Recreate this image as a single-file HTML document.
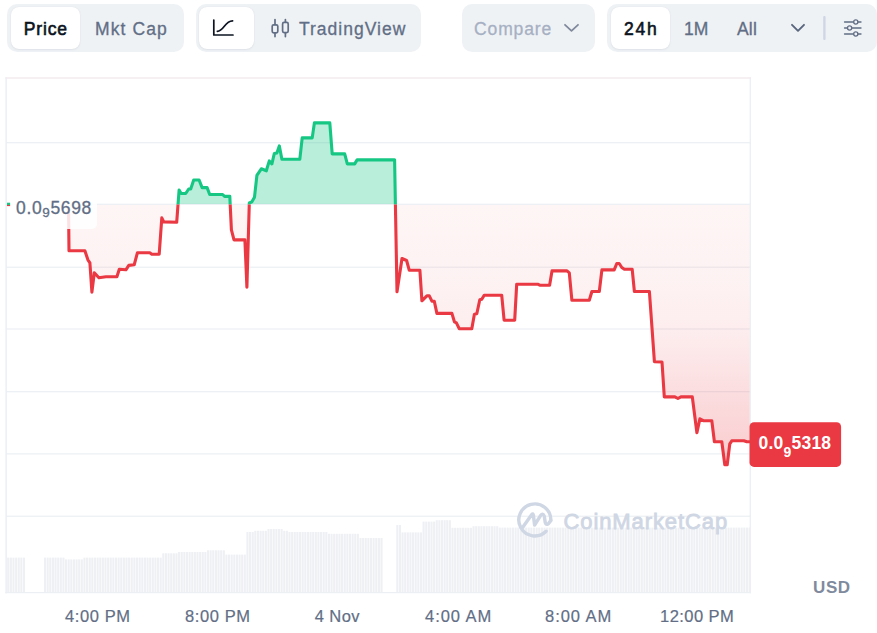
<!DOCTYPE html>
<html><head><meta charset="utf-8"><title>Chart</title>
<style>
html,body{margin:0;padding:0;background:#fff;}
body{width:877px;height:633px;position:relative;overflow:hidden;font-family:"Liberation Sans",sans-serif;}
.grp{position:absolute;top:4px;height:48px;background:#eff2f5;border-radius:10px;}
.btn{position:absolute;top:3px;height:42px;background:#fff;border-radius:8px;box-shadow:0 1px 2px rgba(128,138,157,.12),0 0 1px rgba(128,138,157,.2);}
.t{position:absolute;white-space:nowrap;line-height:20px;font-size:17.5px;color:#616e85;-webkit-text-stroke:.3px currentColor;}
.b{font-weight:bold;color:#0d1421;}
svg{position:absolute;left:0;top:0;}
.ax{position:absolute;top:605.6px;font-size:16.5px;line-height:20px;color:#616e85;white-space:nowrap;letter-spacing:.6px;-webkit-text-stroke:.2px currentColor}
</style></head><body>
<!-- toolbar -->
<div class="grp" style="left:7px;width:177px"><div class="btn" style="left:4px;width:69px"></div></div>
<div class="t" style="left:23.8px;top:19.3px;letter-spacing:.85px;color:#0d1421;-webkit-text-stroke:.6px #0d1421">Price</div>
<div class="t" style="left:95px;top:19.3px;letter-spacing:1.1px">Mkt Cap</div>
<div class="grp" style="left:196px;width:225px"><div class="btn" style="left:3px;width:55px"></div></div>
<div class="t" style="left:299px;top:19.3px;letter-spacing:1px">TradingView</div>
<div class="grp" style="left:462px;width:133px"></div>
<div class="t" style="left:474px;top:19.3px;color:#a6b0c3;letter-spacing:.88px">Compare</div>
<div class="grp" style="left:607px;width:270px"><div class="btn" style="left:4px;width:59px"></div></div>
<div class="t" style="left:624px;top:19.3px;letter-spacing:1.75px;color:#0d1421;-webkit-text-stroke:.6px #0d1421">24h</div>
<div class="t" style="left:684px;top:19.3px;letter-spacing:0px">1M</div>
<div class="t" style="left:737px;top:19.3px;letter-spacing:.2px">All</div>

<svg width="877" height="633" viewBox="0 0 877 633">
<defs>
<linearGradient id="rg" x1="0" y1="204.5" x2="0" y2="466" gradientUnits="userSpaceOnUse">
<stop offset="0" stop-color="#ea3943" stop-opacity="0.05"/><stop offset="0.3" stop-color="#ea3943" stop-opacity="0.065"/><stop offset="0.5" stop-color="#ea3943" stop-opacity="0.095"/><stop offset="0.78" stop-color="#ea3943" stop-opacity="0.19"/><stop offset="1" stop-color="#ea3943" stop-opacity="0.26"/>
</linearGradient>
<clipPath id="up"><rect x="0" y="70" width="877" height="134.5"/></clipPath>
<clipPath id="dn"><rect x="0" y="204.5" width="877" height="400"/></clipPath>
<clipPath id="upa"><rect x="0" y="70" width="877" height="134"/></clipPath>
<clipPath id="dna"><rect x="0" y="205" width="877" height="400"/></clipPath>
</defs>
<!-- toolbar icons -->
<g fill="none" stroke="#0d1421" stroke-width="1.7" stroke-linecap="round" stroke-linejoin="round">
<path d="M213.8,20 V35 H233"/><path d="M217.3,31.3 C224,31 224.5,21 232.6,20.8"/>
</g>
<g fill="none" stroke="#616e85" stroke-width="1.7" stroke-linecap="round" stroke-linejoin="round">
<rect x="272.2" y="24.8" width="5.6" height="8" rx="1.5"/><path d="M275,19.6 V24.5 M275,33 V36.6"/>
<rect x="282.6" y="22.4" width="5.6" height="10.2" rx="1.5"/><path d="M285.4,19.6 V22 M285.4,33 V36.6"/>
</g>
<path d="M565,24.8 L571.5,30.8 L578,24.8" fill="none" stroke="#808a9d" stroke-width="1.8" stroke-linecap="round" stroke-linejoin="round"/>
<path d="M792,24.8 L798,30.8 L804,24.8" fill="none" stroke="#58667e" stroke-width="1.9" stroke-linecap="round" stroke-linejoin="round"/>
<rect x="823.2" y="16" width="2.4" height="24" rx="1" fill="#cfd6e4"/>
<g fill="none" stroke="#616e85" stroke-width="1.3" stroke-linecap="round">
<path d="M844.5,22 H853.5 M858,22 H861 M844.5,28 H847.4 M851.8,28 H861 M844.5,34 H853.5 M858,34 H861"/>
<circle cx="855.8" cy="22" r="2.1"/><circle cx="849.6" cy="28" r="2.1"/><circle cx="855.8" cy="34" r="2.1"/>
</g>
<!-- chart frame -->
<g fill="#eceff3">
<rect x="5.4" y="77.3" width="1.5" height="516"/><rect x="749.6" y="77.3" width="1.4" height="516"/>
<rect x="5.4" y="77.3" width="745.6" height="1.4" fill="#f2eaed"/>
<rect x="6" width="744.5" y="142.10" height="1.2"/><rect x="6" width="744.5" y="203.70" height="1.2"/><rect x="6" width="744.5" y="266.60" height="1.2"/><rect x="6" width="744.5" y="328.40" height="1.2"/><rect x="6" width="744.5" y="391.10" height="1.2"/><rect x="6" width="744.5" y="453.30" height="1.2"/><rect x="6" width="744.5" y="515.60" height="1.2"/>
<rect x="5.4" y="592" width="745.6" height="1.2"/>
</g>
<!-- volume -->
<g fill="#eef0f4"><rect x="6.00" y="557.6" width="0.62" height="34.7"/><rect x="7.18" y="557.6" width="2.07" height="34.7"/><rect x="9.81" y="557.6" width="2.07" height="34.7"/><rect x="12.44" y="557.6" width="2.07" height="34.7"/><rect x="15.07" y="557.6" width="2.07" height="34.7"/><rect x="17.70" y="557.6" width="2.07" height="34.7"/><rect x="20.32" y="557.6" width="2.07" height="34.7"/><rect x="22.95" y="557.6" width="2.07" height="34.7"/><rect x="43.98" y="557.6" width="2.07" height="34.7"/><rect x="46.61" y="557.6" width="2.07" height="34.7"/><rect x="49.24" y="557.6" width="2.07" height="34.7"/><rect x="51.87" y="557.6" width="2.07" height="34.7"/><rect x="54.50" y="557.6" width="2.07" height="34.7"/><rect x="57.13" y="557.6" width="2.07" height="34.7"/><rect x="59.76" y="557.6" width="2.07" height="34.7"/><rect x="62.39" y="557.6" width="2.07" height="34.7"/><rect x="65.02" y="559.4" width="2.07" height="32.9"/><rect x="67.65" y="559.4" width="2.07" height="32.9"/><rect x="70.27" y="559.4" width="2.07" height="32.9"/><rect x="72.90" y="559.4" width="2.07" height="32.9"/><rect x="75.53" y="559.4" width="2.07" height="32.9"/><rect x="78.16" y="559.4" width="2.07" height="32.9"/><rect x="80.79" y="559.4" width="2.07" height="32.9"/><rect x="83.42" y="557.6" width="2.07" height="34.7"/><rect x="86.05" y="557.6" width="2.07" height="34.7"/><rect x="88.68" y="557.6" width="2.07" height="34.7"/><rect x="91.31" y="557.6" width="2.07" height="34.7"/><rect x="93.94" y="557.6" width="2.07" height="34.7"/><rect x="96.57" y="557.6" width="2.07" height="34.7"/><rect x="99.19" y="557.6" width="2.07" height="34.7"/><rect x="101.82" y="557.6" width="2.07" height="34.7"/><rect x="104.45" y="557.6" width="2.07" height="34.7"/><rect x="107.08" y="557.6" width="2.07" height="34.7"/><rect x="109.71" y="557.6" width="2.07" height="34.7"/><rect x="112.34" y="557.6" width="2.07" height="34.7"/><rect x="114.97" y="557.6" width="2.07" height="34.7"/><rect x="117.60" y="557.6" width="2.07" height="34.7"/><rect x="120.23" y="557.6" width="2.07" height="34.7"/><rect x="122.86" y="557.6" width="2.07" height="34.7"/><rect x="125.48" y="557.6" width="2.07" height="34.7"/><rect x="128.11" y="557.6" width="2.07" height="34.7"/><rect x="130.74" y="557.6" width="2.07" height="34.7"/><rect x="133.37" y="557.6" width="2.07" height="34.7"/><rect x="136.00" y="557.6" width="2.07" height="34.7"/><rect x="138.63" y="557.6" width="2.07" height="34.7"/><rect x="141.26" y="557.6" width="2.07" height="34.7"/><rect x="143.89" y="557.6" width="2.07" height="34.7"/><rect x="146.52" y="557.6" width="2.07" height="34.7"/><rect x="149.15" y="557.6" width="2.07" height="34.7"/><rect x="151.77" y="557.6" width="2.07" height="34.7"/><rect x="154.40" y="557.6" width="2.07" height="34.7"/><rect x="157.03" y="557.6" width="2.07" height="34.7"/><rect x="159.66" y="557.6" width="2.07" height="34.7"/><rect x="162.29" y="553.3" width="2.07" height="39.0"/><rect x="164.92" y="553.3" width="2.07" height="39.0"/><rect x="167.55" y="553.3" width="2.07" height="39.0"/><rect x="170.18" y="553.3" width="2.07" height="39.0"/><rect x="172.81" y="553.3" width="2.07" height="39.0"/><rect x="175.43" y="553.3" width="2.07" height="39.0"/><rect x="178.06" y="552.0" width="2.07" height="40.3"/><rect x="180.69" y="552.0" width="2.07" height="40.3"/><rect x="183.32" y="552.0" width="2.07" height="40.3"/><rect x="185.95" y="552.0" width="2.07" height="40.3"/><rect x="188.58" y="552.0" width="2.07" height="40.3"/><rect x="191.21" y="552.0" width="2.07" height="40.3"/><rect x="193.84" y="552.0" width="2.07" height="40.3"/><rect x="196.47" y="552.0" width="2.07" height="40.3"/><rect x="199.10" y="552.0" width="2.07" height="40.3"/><rect x="201.72" y="552.0" width="2.07" height="40.3"/><rect x="204.35" y="552.0" width="2.07" height="40.3"/><rect x="206.98" y="550.3" width="2.07" height="42.0"/><rect x="209.61" y="550.3" width="2.07" height="42.0"/><rect x="212.24" y="550.3" width="2.07" height="42.0"/><rect x="214.87" y="550.3" width="2.07" height="42.0"/><rect x="217.50" y="550.3" width="2.07" height="42.0"/><rect x="220.13" y="550.3" width="2.07" height="42.0"/><rect x="222.76" y="550.3" width="2.07" height="42.0"/><rect x="225.39" y="554.6" width="2.07" height="37.7"/><rect x="228.01" y="554.6" width="2.07" height="37.7"/><rect x="230.64" y="554.6" width="2.07" height="37.7"/><rect x="233.27" y="554.6" width="2.07" height="37.7"/><rect x="235.90" y="554.6" width="2.07" height="37.7"/><rect x="238.53" y="554.6" width="2.07" height="37.7"/><rect x="241.16" y="554.6" width="2.07" height="37.7"/><rect x="243.79" y="554.6" width="2.07" height="37.7"/><rect x="246.42" y="532.0" width="2.07" height="60.3"/><rect x="249.05" y="532.0" width="2.07" height="60.3"/><rect x="251.68" y="532.0" width="2.07" height="60.3"/><rect x="254.30" y="530.8" width="2.07" height="61.5"/><rect x="256.93" y="530.8" width="2.07" height="61.5"/><rect x="259.56" y="530.8" width="2.07" height="61.5"/><rect x="262.19" y="530.8" width="2.07" height="61.5"/><rect x="264.82" y="530.8" width="2.07" height="61.5"/><rect x="267.45" y="529.0" width="2.07" height="63.3"/><rect x="270.08" y="529.0" width="2.07" height="63.3"/><rect x="272.71" y="529.0" width="2.07" height="63.3"/><rect x="275.34" y="529.0" width="2.07" height="63.3"/><rect x="277.97" y="529.0" width="2.07" height="63.3"/><rect x="280.59" y="529.0" width="2.07" height="63.3"/><rect x="283.22" y="530.8" width="2.07" height="61.5"/><rect x="285.85" y="530.8" width="2.07" height="61.5"/><rect x="288.48" y="532.0" width="2.07" height="60.3"/><rect x="291.11" y="532.0" width="2.07" height="60.3"/><rect x="293.74" y="532.0" width="2.07" height="60.3"/><rect x="296.37" y="532.0" width="2.07" height="60.3"/><rect x="299.00" y="532.0" width="2.07" height="60.3"/><rect x="301.63" y="532.0" width="2.07" height="60.3"/><rect x="304.26" y="532.0" width="2.07" height="60.3"/><rect x="306.88" y="532.0" width="2.07" height="60.3"/><rect x="309.51" y="532.0" width="2.07" height="60.3"/><rect x="312.14" y="532.0" width="2.07" height="60.3"/><rect x="314.77" y="532.0" width="2.07" height="60.3"/><rect x="317.40" y="532.0" width="2.07" height="60.3"/><rect x="320.03" y="532.0" width="2.07" height="60.3"/><rect x="322.66" y="532.0" width="2.07" height="60.3"/><rect x="325.29" y="532.0" width="2.07" height="60.3"/><rect x="327.92" y="533.8" width="2.07" height="58.5"/><rect x="330.55" y="533.8" width="2.07" height="58.5"/><rect x="333.18" y="533.8" width="2.07" height="58.5"/><rect x="335.80" y="533.8" width="2.07" height="58.5"/><rect x="338.43" y="533.8" width="2.07" height="58.5"/><rect x="341.06" y="533.8" width="2.07" height="58.5"/><rect x="343.69" y="533.8" width="2.07" height="58.5"/><rect x="346.32" y="533.8" width="2.07" height="58.5"/><rect x="348.95" y="533.8" width="2.07" height="58.5"/><rect x="351.58" y="533.8" width="2.07" height="58.5"/><rect x="354.21" y="533.8" width="2.07" height="58.5"/><rect x="356.84" y="533.8" width="2.07" height="58.5"/><rect x="359.47" y="538.0" width="2.07" height="54.3"/><rect x="362.09" y="538.0" width="2.07" height="54.3"/><rect x="364.72" y="538.0" width="2.07" height="54.3"/><rect x="367.35" y="538.0" width="2.07" height="54.3"/><rect x="369.98" y="538.0" width="2.07" height="54.3"/><rect x="372.61" y="538.0" width="2.07" height="54.3"/><rect x="375.24" y="538.0" width="2.07" height="54.3"/><rect x="377.87" y="538.0" width="2.07" height="54.3"/><rect x="380.50" y="538.0" width="2.07" height="54.3"/><rect x="396.27" y="525.0" width="2.07" height="67.3"/><rect x="398.90" y="525.0" width="2.07" height="67.3"/><rect x="401.53" y="532.4" width="2.07" height="59.9"/><rect x="404.16" y="532.4" width="2.07" height="59.9"/><rect x="406.79" y="532.4" width="2.07" height="59.9"/><rect x="409.42" y="532.4" width="2.07" height="59.9"/><rect x="412.05" y="532.4" width="2.07" height="59.9"/><rect x="414.67" y="532.4" width="2.07" height="59.9"/><rect x="417.30" y="532.4" width="2.07" height="59.9"/><rect x="419.93" y="532.4" width="2.07" height="59.9"/><rect x="422.56" y="521.6" width="2.07" height="70.7"/><rect x="425.19" y="521.6" width="2.07" height="70.7"/><rect x="427.82" y="521.6" width="2.07" height="70.7"/><rect x="430.45" y="521.6" width="2.07" height="70.7"/><rect x="433.08" y="521.6" width="2.07" height="70.7"/><rect x="435.71" y="520.2" width="2.07" height="72.1"/><rect x="438.34" y="520.2" width="2.07" height="72.1"/><rect x="440.96" y="520.2" width="2.07" height="72.1"/><rect x="443.59" y="520.2" width="2.07" height="72.1"/><rect x="446.22" y="520.2" width="2.07" height="72.1"/><rect x="448.85" y="520.2" width="2.07" height="72.1"/><rect x="451.48" y="527.8" width="2.07" height="64.5"/><rect x="454.11" y="527.8" width="2.07" height="64.5"/><rect x="456.74" y="527.8" width="2.07" height="64.5"/><rect x="459.37" y="527.8" width="2.07" height="64.5"/><rect x="462.00" y="527.8" width="2.07" height="64.5"/><rect x="464.63" y="527.8" width="2.07" height="64.5"/><rect x="467.25" y="527.8" width="2.07" height="64.5"/><rect x="469.88" y="527.8" width="2.07" height="64.5"/><rect x="472.51" y="526.2" width="2.07" height="66.1"/><rect x="475.14" y="526.2" width="2.07" height="66.1"/><rect x="477.77" y="526.2" width="2.07" height="66.1"/><rect x="480.40" y="526.2" width="2.07" height="66.1"/><rect x="483.03" y="526.2" width="2.07" height="66.1"/><rect x="485.66" y="526.2" width="2.07" height="66.1"/><rect x="488.29" y="526.2" width="2.07" height="66.1"/><rect x="490.92" y="526.2" width="2.07" height="66.1"/><rect x="493.54" y="526.2" width="2.07" height="66.1"/><rect x="496.17" y="526.2" width="2.07" height="66.1"/><rect x="498.80" y="527.6" width="2.07" height="64.7"/><rect x="501.43" y="527.6" width="2.07" height="64.7"/><rect x="504.06" y="527.6" width="2.07" height="64.7"/><rect x="506.69" y="527.6" width="2.07" height="64.7"/><rect x="509.32" y="527.6" width="2.07" height="64.7"/><rect x="511.95" y="527.6" width="2.07" height="64.7"/><rect x="514.58" y="527.6" width="2.07" height="64.7"/><rect x="517.21" y="527.6" width="2.07" height="64.7"/><rect x="519.83" y="527.6" width="2.07" height="64.7"/><rect x="522.46" y="527.6" width="2.07" height="64.7"/><rect x="525.09" y="527.6" width="2.07" height="64.7"/><rect x="527.72" y="527.6" width="2.07" height="64.7"/><rect x="530.35" y="527.6" width="2.07" height="64.7"/><rect x="532.98" y="527.6" width="2.07" height="64.7"/><rect x="535.61" y="527.6" width="2.07" height="64.7"/><rect x="538.24" y="527.6" width="2.07" height="64.7"/><rect x="540.87" y="527.6" width="2.07" height="64.7"/><rect x="543.50" y="527.6" width="2.07" height="64.7"/><rect x="546.12" y="527.6" width="2.07" height="64.7"/><rect x="548.75" y="527.6" width="2.07" height="64.7"/><rect x="551.38" y="527.6" width="2.07" height="64.7"/><rect x="554.01" y="527.6" width="2.07" height="64.7"/><rect x="556.64" y="527.6" width="2.07" height="64.7"/><rect x="559.27" y="527.6" width="2.07" height="64.7"/><rect x="561.90" y="527.6" width="2.07" height="64.7"/><rect x="564.53" y="527.6" width="2.07" height="64.7"/><rect x="567.16" y="527.6" width="2.07" height="64.7"/><rect x="569.79" y="527.6" width="2.07" height="64.7"/><rect x="572.41" y="527.6" width="2.07" height="64.7"/><rect x="575.04" y="527.6" width="2.07" height="64.7"/><rect x="577.67" y="527.6" width="2.07" height="64.7"/><rect x="580.30" y="527.6" width="2.07" height="64.7"/><rect x="582.93" y="527.6" width="2.07" height="64.7"/><rect x="585.56" y="527.6" width="2.07" height="64.7"/><rect x="588.19" y="527.6" width="2.07" height="64.7"/><rect x="590.82" y="527.6" width="2.07" height="64.7"/><rect x="593.45" y="527.6" width="2.07" height="64.7"/><rect x="596.08" y="527.6" width="2.07" height="64.7"/><rect x="598.70" y="527.6" width="2.07" height="64.7"/><rect x="601.33" y="527.6" width="2.07" height="64.7"/><rect x="603.96" y="527.6" width="2.07" height="64.7"/><rect x="606.59" y="527.6" width="2.07" height="64.7"/><rect x="609.22" y="527.6" width="2.07" height="64.7"/><rect x="611.85" y="527.6" width="2.07" height="64.7"/><rect x="614.48" y="527.6" width="2.07" height="64.7"/><rect x="617.11" y="527.6" width="2.07" height="64.7"/><rect x="619.74" y="527.6" width="2.07" height="64.7"/><rect x="622.37" y="527.6" width="2.07" height="64.7"/><rect x="624.99" y="527.6" width="2.07" height="64.7"/><rect x="627.62" y="527.6" width="2.07" height="64.7"/><rect x="630.25" y="527.6" width="2.07" height="64.7"/><rect x="632.88" y="527.6" width="2.07" height="64.7"/><rect x="635.51" y="527.6" width="2.07" height="64.7"/><rect x="638.14" y="527.6" width="2.07" height="64.7"/><rect x="640.77" y="527.6" width="2.07" height="64.7"/><rect x="643.40" y="527.6" width="2.07" height="64.7"/><rect x="646.03" y="527.6" width="2.07" height="64.7"/><rect x="648.66" y="527.6" width="2.07" height="64.7"/><rect x="651.28" y="527.6" width="2.07" height="64.7"/><rect x="653.91" y="527.6" width="2.07" height="64.7"/><rect x="656.54" y="527.6" width="2.07" height="64.7"/><rect x="659.17" y="527.6" width="2.07" height="64.7"/><rect x="661.80" y="527.6" width="2.07" height="64.7"/><rect x="664.43" y="527.6" width="2.07" height="64.7"/><rect x="667.06" y="527.6" width="2.07" height="64.7"/><rect x="669.69" y="527.6" width="2.07" height="64.7"/><rect x="672.32" y="527.6" width="2.07" height="64.7"/><rect x="674.95" y="527.6" width="2.07" height="64.7"/><rect x="677.57" y="527.6" width="2.07" height="64.7"/><rect x="680.20" y="527.6" width="2.07" height="64.7"/><rect x="682.83" y="527.6" width="2.07" height="64.7"/><rect x="685.46" y="527.6" width="2.07" height="64.7"/><rect x="688.09" y="527.6" width="2.07" height="64.7"/><rect x="690.72" y="527.6" width="2.07" height="64.7"/><rect x="693.35" y="527.6" width="2.07" height="64.7"/><rect x="695.98" y="527.6" width="2.07" height="64.7"/><rect x="698.61" y="527.6" width="2.07" height="64.7"/><rect x="701.24" y="527.6" width="2.07" height="64.7"/><rect x="703.86" y="527.6" width="2.07" height="64.7"/><rect x="706.49" y="527.6" width="2.07" height="64.7"/><rect x="709.12" y="527.6" width="2.07" height="64.7"/><rect x="711.75" y="527.6" width="2.07" height="64.7"/><rect x="714.38" y="527.6" width="2.07" height="64.7"/><rect x="717.01" y="527.6" width="2.07" height="64.7"/><rect x="719.64" y="527.6" width="2.07" height="64.7"/><rect x="722.27" y="527.6" width="2.07" height="64.7"/><rect x="724.90" y="527.6" width="2.07" height="64.7"/><rect x="727.53" y="527.6" width="2.07" height="64.7"/><rect x="730.15" y="527.6" width="2.07" height="64.7"/><rect x="732.78" y="527.6" width="2.07" height="64.7"/><rect x="735.41" y="527.6" width="2.07" height="64.7"/><rect x="738.04" y="527.6" width="2.07" height="64.7"/><rect x="740.67" y="527.6" width="2.07" height="64.7"/><rect x="743.30" y="527.6" width="2.07" height="64.7"/><rect x="745.93" y="527.6" width="2.07" height="64.7"/><rect x="748.56" y="527.6" width="2.07" height="64.7"/></g>
<!-- areas -->
<path d="M68.6,213.0 L69.0,250.8 L84.9,250.8 L87.9,259.8 L89.9,262.8 L91.9,292.1 L94.3,272.8 L98.9,277.8 L105.9,276.8 L116.9,276.8 L119.3,269.2 L125.9,269.8 L128.8,265.4 L134.2,264.8 L137.4,252.8 L149.8,252.8 L151.8,254.2 L159.2,254.2 L161.8,217.9 L163.8,221.9 L176.7,222.3 L179.1,190.0 L181.1,193.5 L185.7,193.5 L188.7,189.0 L190.7,189.0 L193.7,180.0 L199.1,180.0 L202.1,187.6 L207.1,187.6 L209.7,194.5 L222.6,194.5 L224.6,196.4 L229.8,196.4 L231.4,229.9 L234.0,239.9 L244.9,239.9 L246.9,287.2 L249.3,203.0 L251.9,201.8 L254.5,197.2 L256.9,175.4 L261.3,168.8 L266.3,170.8 L269.3,160.9 L271.9,163.9 L274.3,153.5 L276.9,152.9 L279.3,145.9 L281.9,159.3 L299.8,159.3 L302.2,137.9 L312.2,137.9 L314.4,122.9 L329.8,122.9 L332.2,153.9 L344.7,153.9 L347.3,163.9 L354.7,163.9 L357.1,159.9 L394.6,159.9 L395.6,215.0 L397.0,291.8 L402.0,258.5 L406.6,260.5 L409.3,270.3 L419.9,270.3 L421.9,300.8 L426.9,295.8 L429.3,295.8 L431.9,301.2 L434.3,301.2 L436.9,313.4 L451.9,313.4 L454.4,321.8 L456.4,322.8 L459.2,328.7 L471.8,328.7 L474.4,314.2 L476.8,313.8 L479.8,299.8 L481.8,299.2 L484.2,295.2 L501.7,295.2 L504.1,320.2 L514.7,320.2 L516.7,284.2 L537.7,284.2 L539.7,285.2 L549.6,285.2 L552.0,270.9 L567.0,270.9 L569.3,272.9 L571.9,300.3 L589.3,300.3 L591.9,291.5 L599.3,291.5 L601.9,269.9 L614.2,269.9 L616.8,263.5 L619.2,263.5 L621.8,267.5 L624.4,269.3 L632.2,269.3 L634.4,291.5 L649.4,291.5 L654.4,361.7 L662.0,362.0 L664.3,396.9 L674.9,396.9 L677.9,398.5 L680.9,396.9 L692.3,396.9 L696.9,432.8 L699.9,418.8 L703.9,420.8 L711.8,420.8 L714.4,441.8 L721.8,441.8 L724.8,464.7 L727.2,464.7 L729.8,443.8 L731.8,440.8 L743.8,440.8 L746.8,441.8 L749.6,441.8 L749.6,204.5 L68.6,204.5 Z" fill="#16c784" fill-opacity="0.3" clip-path="url(#upa)"/>
<path d="M68.6,213.0 L69.0,250.8 L84.9,250.8 L87.9,259.8 L89.9,262.8 L91.9,292.1 L94.3,272.8 L98.9,277.8 L105.9,276.8 L116.9,276.8 L119.3,269.2 L125.9,269.8 L128.8,265.4 L134.2,264.8 L137.4,252.8 L149.8,252.8 L151.8,254.2 L159.2,254.2 L161.8,217.9 L163.8,221.9 L176.7,222.3 L179.1,190.0 L181.1,193.5 L185.7,193.5 L188.7,189.0 L190.7,189.0 L193.7,180.0 L199.1,180.0 L202.1,187.6 L207.1,187.6 L209.7,194.5 L222.6,194.5 L224.6,196.4 L229.8,196.4 L231.4,229.9 L234.0,239.9 L244.9,239.9 L246.9,287.2 L249.3,203.0 L251.9,201.8 L254.5,197.2 L256.9,175.4 L261.3,168.8 L266.3,170.8 L269.3,160.9 L271.9,163.9 L274.3,153.5 L276.9,152.9 L279.3,145.9 L281.9,159.3 L299.8,159.3 L302.2,137.9 L312.2,137.9 L314.4,122.9 L329.8,122.9 L332.2,153.9 L344.7,153.9 L347.3,163.9 L354.7,163.9 L357.1,159.9 L394.6,159.9 L395.6,215.0 L397.0,291.8 L402.0,258.5 L406.6,260.5 L409.3,270.3 L419.9,270.3 L421.9,300.8 L426.9,295.8 L429.3,295.8 L431.9,301.2 L434.3,301.2 L436.9,313.4 L451.9,313.4 L454.4,321.8 L456.4,322.8 L459.2,328.7 L471.8,328.7 L474.4,314.2 L476.8,313.8 L479.8,299.8 L481.8,299.2 L484.2,295.2 L501.7,295.2 L504.1,320.2 L514.7,320.2 L516.7,284.2 L537.7,284.2 L539.7,285.2 L549.6,285.2 L552.0,270.9 L567.0,270.9 L569.3,272.9 L571.9,300.3 L589.3,300.3 L591.9,291.5 L599.3,291.5 L601.9,269.9 L614.2,269.9 L616.8,263.5 L619.2,263.5 L621.8,267.5 L624.4,269.3 L632.2,269.3 L634.4,291.5 L649.4,291.5 L654.4,361.7 L662.0,362.0 L664.3,396.9 L674.9,396.9 L677.9,398.5 L680.9,396.9 L692.3,396.9 L696.9,432.8 L699.9,418.8 L703.9,420.8 L711.8,420.8 L714.4,441.8 L721.8,441.8 L724.8,464.7 L727.2,464.7 L729.8,443.8 L731.8,440.8 L743.8,440.8 L746.8,441.8 L749.6,441.8 L749.6,204.5 L68.6,204.5 Z" fill="url(#rg)" clip-path="url(#dna)"/>
<path d="M68.6,213.0 L69.0,250.8 L84.9,250.8 L87.9,259.8 L89.9,262.8 L91.9,292.1 L94.3,272.8 L98.9,277.8 L105.9,276.8 L116.9,276.8 L119.3,269.2 L125.9,269.8 L128.8,265.4 L134.2,264.8 L137.4,252.8 L149.8,252.8 L151.8,254.2 L159.2,254.2 L161.8,217.9 L163.8,221.9 L176.7,222.3 L179.1,190.0 L181.1,193.5 L185.7,193.5 L188.7,189.0 L190.7,189.0 L193.7,180.0 L199.1,180.0 L202.1,187.6 L207.1,187.6 L209.7,194.5 L222.6,194.5 L224.6,196.4 L229.8,196.4 L231.4,229.9 L234.0,239.9 L244.9,239.9 L246.9,287.2 L249.3,203.0 L251.9,201.8 L254.5,197.2 L256.9,175.4 L261.3,168.8 L266.3,170.8 L269.3,160.9 L271.9,163.9 L274.3,153.5 L276.9,152.9 L279.3,145.9 L281.9,159.3 L299.8,159.3 L302.2,137.9 L312.2,137.9 L314.4,122.9 L329.8,122.9 L332.2,153.9 L344.7,153.9 L347.3,163.9 L354.7,163.9 L357.1,159.9 L394.6,159.9 L395.6,215.0 L397.0,291.8 L402.0,258.5 L406.6,260.5 L409.3,270.3 L419.9,270.3 L421.9,300.8 L426.9,295.8 L429.3,295.8 L431.9,301.2 L434.3,301.2 L436.9,313.4 L451.9,313.4 L454.4,321.8 L456.4,322.8 L459.2,328.7 L471.8,328.7 L474.4,314.2 L476.8,313.8 L479.8,299.8 L481.8,299.2 L484.2,295.2 L501.7,295.2 L504.1,320.2 L514.7,320.2 L516.7,284.2 L537.7,284.2 L539.7,285.2 L549.6,285.2 L552.0,270.9 L567.0,270.9 L569.3,272.9 L571.9,300.3 L589.3,300.3 L591.9,291.5 L599.3,291.5 L601.9,269.9 L614.2,269.9 L616.8,263.5 L619.2,263.5 L621.8,267.5 L624.4,269.3 L632.2,269.3 L634.4,291.5 L649.4,291.5 L654.4,361.7 L662.0,362.0 L664.3,396.9 L674.9,396.9 L677.9,398.5 L680.9,396.9 L692.3,396.9 L696.9,432.8 L699.9,418.8 L703.9,420.8 L711.8,420.8 L714.4,441.8 L721.8,441.8 L724.8,464.7 L727.2,464.7 L729.8,443.8 L731.8,440.8 L743.8,440.8 L746.8,441.8 L749.6,441.8" fill="none" stroke="#16c784" stroke-width="3.1" stroke-linejoin="round" stroke-linecap="round" clip-path="url(#up)"/>
<path d="M68.6,213.0 L69.0,250.8 L84.9,250.8 L87.9,259.8 L89.9,262.8 L91.9,292.1 L94.3,272.8 L98.9,277.8 L105.9,276.8 L116.9,276.8 L119.3,269.2 L125.9,269.8 L128.8,265.4 L134.2,264.8 L137.4,252.8 L149.8,252.8 L151.8,254.2 L159.2,254.2 L161.8,217.9 L163.8,221.9 L176.7,222.3 L179.1,190.0 L181.1,193.5 L185.7,193.5 L188.7,189.0 L190.7,189.0 L193.7,180.0 L199.1,180.0 L202.1,187.6 L207.1,187.6 L209.7,194.5 L222.6,194.5 L224.6,196.4 L229.8,196.4 L231.4,229.9 L234.0,239.9 L244.9,239.9 L246.9,287.2 L249.3,203.0 L251.9,201.8 L254.5,197.2 L256.9,175.4 L261.3,168.8 L266.3,170.8 L269.3,160.9 L271.9,163.9 L274.3,153.5 L276.9,152.9 L279.3,145.9 L281.9,159.3 L299.8,159.3 L302.2,137.9 L312.2,137.9 L314.4,122.9 L329.8,122.9 L332.2,153.9 L344.7,153.9 L347.3,163.9 L354.7,163.9 L357.1,159.9 L394.6,159.9 L395.6,215.0 L397.0,291.8 L402.0,258.5 L406.6,260.5 L409.3,270.3 L419.9,270.3 L421.9,300.8 L426.9,295.8 L429.3,295.8 L431.9,301.2 L434.3,301.2 L436.9,313.4 L451.9,313.4 L454.4,321.8 L456.4,322.8 L459.2,328.7 L471.8,328.7 L474.4,314.2 L476.8,313.8 L479.8,299.8 L481.8,299.2 L484.2,295.2 L501.7,295.2 L504.1,320.2 L514.7,320.2 L516.7,284.2 L537.7,284.2 L539.7,285.2 L549.6,285.2 L552.0,270.9 L567.0,270.9 L569.3,272.9 L571.9,300.3 L589.3,300.3 L591.9,291.5 L599.3,291.5 L601.9,269.9 L614.2,269.9 L616.8,263.5 L619.2,263.5 L621.8,267.5 L624.4,269.3 L632.2,269.3 L634.4,291.5 L649.4,291.5 L654.4,361.7 L662.0,362.0 L664.3,396.9 L674.9,396.9 L677.9,398.5 L680.9,396.9 L692.3,396.9 L696.9,432.8 L699.9,418.8 L703.9,420.8 L711.8,420.8 L714.4,441.8 L721.8,441.8 L724.8,464.7 L727.2,464.7 L729.8,443.8 L731.8,440.8 L743.8,440.8 L746.8,441.8 L749.6,441.8" fill="none" stroke="#ea3943" stroke-width="3.1" stroke-linejoin="round" stroke-linecap="round" clip-path="url(#dn)"/>
<!-- left label bg -->
<rect x="8" y="192" width="89" height="37" rx="5" fill="#fff" fill-opacity="0.85"/>
<!-- base marker -->
<rect x="7" y="202.7" width="3.1" height="2.3" fill="#16c784"/><rect x="7" y="205" width="3.1" height="1.1" fill="#ea3943"/>
<!-- watermark -->
<g fill="none" stroke="#cfd6e4" stroke-width="3.4" stroke-linecap="round" stroke-linejoin="round">
<path d="M546.1,531.3 A16,16 0 1 1 550.8,520.5"/>
<path d="M522.6,527.4 L531.8,514.6 Q533,513 533.4,515.2 L534.6,525 L540.4,515.8 Q543,512.2 544.3,516.2 L545.2,522.3 Q546.6,527.2 550.8,520.5"/>
</g>
<!-- price tag -->
<rect x="749.5" y="422.3" width="91.6" height="44.6" rx="4.5" fill="#ea3943"/>
</svg>
<div class="t" style="left:16px;top:197.5px;font-size:17.5px;color:#616e85;letter-spacing:.65px">0.0<span style="font-size:13.5px;position:relative;top:3.5px">9</span>5698</div>
<div class="t" style="left:563.5px;top:510px;font-size:22px;line-height:24px;color:#cfd6e4;letter-spacing:.9px;-webkit-text-stroke:.8px #cfd6e4">CoinMarketCap</div>
<div class="t b" style="left:758.6px;top:432.5px;font-size:17.5px;color:#fff;letter-spacing:.2px;-webkit-text-stroke:0">0.0<span style="font-size:14px;position:relative;top:8.4px">9</span>5318</div>
<div class="t" style="left:813px;top:577.6px;font-size:17px;font-weight:bold;color:#808a9d;letter-spacing:.6px;-webkit-text-stroke:0">USD</div>
<div class="ax" style="left:65px">4:00 PM</div>
<div class="ax" style="left:185px">8:00 PM</div>
<div class="ax" style="left:314.8px;letter-spacing:.4px">4 Nov</div>
<div class="ax" style="left:425px;letter-spacing:.95px">4:00 AM</div>
<div class="ax" style="left:545px;letter-spacing:.95px">8:00 AM</div>
<div class="ax" style="left:660px;letter-spacing:.45px">12:00 PM</div>
</body></html>
